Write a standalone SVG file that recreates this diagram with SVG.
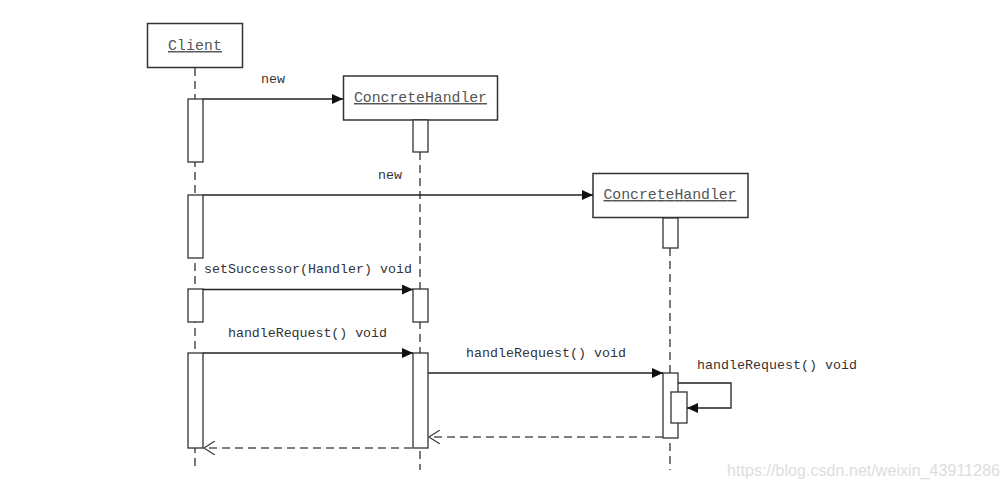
<svg xmlns="http://www.w3.org/2000/svg" width="1007" height="490" viewBox="0 0 1007 490">
<defs>
<marker id="fill" markerWidth="12" markerHeight="10" refX="11" refY="5" orient="auto" markerUnits="userSpaceOnUse">
<path d="M0,0 L11,5 L0,10 Z" fill="#111"/>
</marker>
<marker id="open" markerWidth="14" markerHeight="14" refX="12" refY="7" orient="auto" markerUnits="userSpaceOnUse">
<path d="M1,0 L12,7 L1,14" fill="none" stroke="#444" stroke-width="1.3"/>
</marker>
</defs>
<style>
.box{fill:#fff;stroke:#333;stroke-width:1.5}
.act{fill:#fff;stroke:#333;stroke-width:1.3}
.life{stroke:#333;stroke-width:1.3;stroke-dasharray:8 5;fill:none}
.msg{stroke:#222;stroke-width:1.3;fill:none;marker-end:url(#fill)}
.ret{stroke:#555;stroke-width:1.5;stroke-dasharray:8 5;fill:none;marker-end:url(#open)}
.name{font-family:"Liberation Mono",monospace;font-size:14.8px;fill:#555;text-decoration:underline;text-anchor:middle}
.lbl{font-family:"Liberation Mono",monospace;font-size:13.3px;fill:#333}
.wm{font-family:"Liberation Sans",sans-serif;font-size:16px;fill:#ddd}
</style>
<rect width="1007" height="490" fill="#fff"/>
<g id="lifelines">
<line class="life" x1="195" y1="68" x2="195" y2="470"/>
<line class="life" x1="420" y1="152" x2="420" y2="470"/>
<line class="life" x1="670" y1="248" x2="670" y2="470"/>
</g>
<g id="client">
<rect class="box" x="147.5" y="23.5" width="95" height="44"/>
<text class="name" x="195" y="50" textLength="54">Client</text>
<rect class="act" x="188" y="99" width="15" height="63"/>
<rect class="act" x="188" y="195" width="15" height="63"/>
<rect class="act" x="188" y="289" width="15" height="33"/>
<rect class="act" x="188" y="353" width="15" height="95"/>
</g>
<g id="handler1">
<rect class="box" x="343.5" y="76" width="154" height="44"/>
<text class="name" x="420.5" y="102" textLength="133">ConcreteHandler</text>
<rect class="act" x="413" y="120" width="15" height="32"/>
<rect class="act" x="413" y="289" width="15" height="33"/>
<rect class="act" x="413" y="353" width="15" height="95"/>
</g>
<g id="handler2">
<rect class="box" x="593" y="173.5" width="155" height="44"/>
<text class="name" x="670" y="199" textLength="133">ConcreteHandler</text>
<rect class="act" x="663" y="218" width="15" height="30"/>
<rect class="act" x="663" y="373" width="15" height="65"/>
<rect class="act" x="671" y="392" width="16" height="31"/>
</g>
<g id="connectors">
<line class="msg" x1="203" y1="99" x2="343" y2="99"/>
<text class="lbl" x="261" y="83" textLength="24">new</text>
<line class="msg" x1="203" y1="195" x2="593" y2="195"/>
<text class="lbl" x="378" y="179" textLength="24">new</text>
<line class="msg" x1="203" y1="289.5" x2="413" y2="289.5"/>
<text class="lbl" x="204" y="273" textLength="208">setSuccessor(Handler) void</text>
<line class="msg" x1="203" y1="353" x2="413" y2="353"/>
<text class="lbl" x="228" y="337" textLength="159">handleRequest() void</text>
<line class="msg" x1="428" y1="373" x2="663" y2="373"/>
<text class="lbl" x="466" y="357" textLength="160">handleRequest() void</text>
<polyline class="msg" points="678,383 731,383 731,408 687,408"/>
<text class="lbl" x="697" y="369" textLength="160">handleRequest() void</text>
<line class="ret" x1="663" y1="437" x2="429" y2="437"/>
<line class="ret" x1="412" y1="448" x2="204" y2="448"/>
</g>
<text class="wm" x="727" y="476" textLength="273">https://blog.csdn.net/weixin_43911286</text>
</svg>
